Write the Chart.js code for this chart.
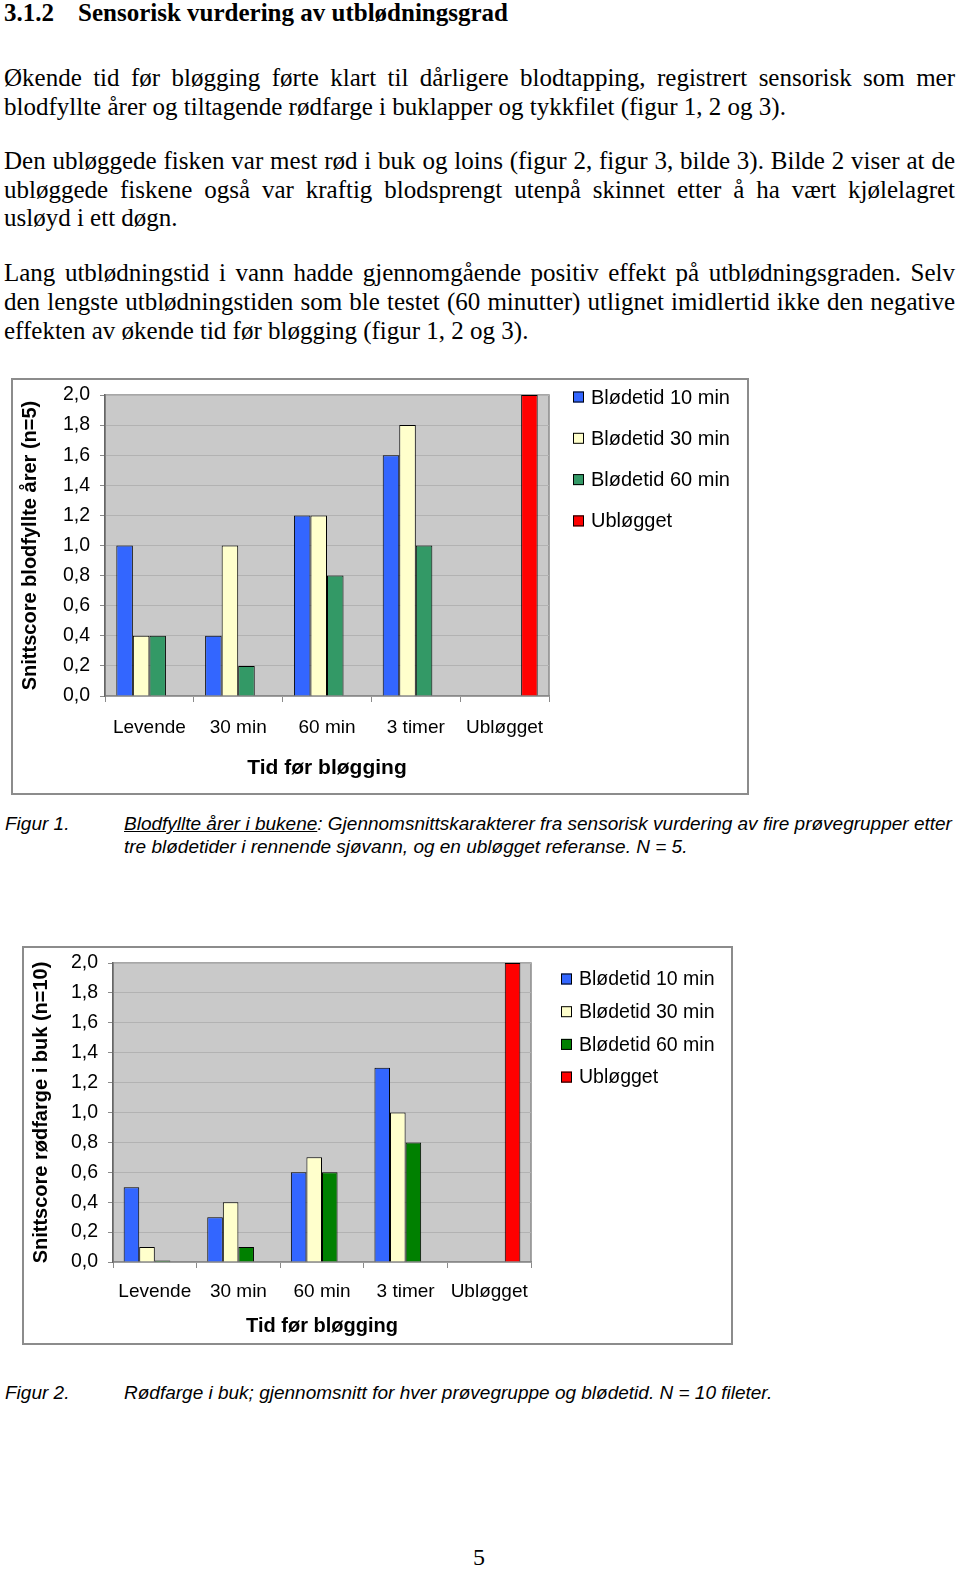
<!DOCTYPE html>
<html>
<head>
<meta charset="utf-8">
<script src="https://cdn.jsdelivr.net/npm/chart.js@4"></script>
<style>
  body { margin: 0; width: 960px; height: 1569px; background: #fff; position: relative; overflow: hidden; }
  .serif { font-family: "Liberation Serif", "Times New Roman", serif; color: #000; }
  .h { position: absolute; font-size: 25px; font-weight: bold; top: 0; line-height: 26px; }
  .line { position: absolute; left: 4px; width: 951px; font-size: 25px; white-space: nowrap; line-height: 26px; }
  .just { text-align: justify; text-align-last: justify; }
  .cap { position: absolute; font-family: "Liberation Sans", Arial, sans-serif; font-style: italic; font-size: 19px; white-space: nowrap; line-height: 22px; }
  .box { position: absolute; border: 2px solid #8c8c8c; box-sizing: border-box; }
  .box canvas { display: block; }
  .pg { position: absolute; left: 473px; top: 1544px; font-size: 24px; }
</style>
</head>
<body>
<div class="serif h" style="left:4px">3.1.2</div>
<div class="serif h" style="left:78px">Sensorisk vurdering av utblødningsgrad</div>

<div class="serif line just" style="top:65px">Økende tid før bløgging førte klart til dårligere blodtapping, registrert sensorisk som mer</div>
<div class="serif line" style="top:94px">blodfyllte årer og tiltagende rødfarge i buklapper og tykkfilet (figur 1, 2 og 3).</div>

<div class="serif line just" style="top:148px">Den ubløggede fisken var mest rød i buk og loins (figur 2, figur 3, bilde 3). Bilde 2 viser at de</div>
<div class="serif line just" style="top:177px">ubløggede fiskene også var kraftig blodsprengt utenpå skinnet etter å ha vært kjølelagret</div>
<div class="serif line" style="top:205px">usløyd i ett døgn.</div>

<div class="serif line just" style="top:260px">Lang utblødningstid i vann hadde gjennomgående positiv effekt på utblødningsgraden. Selv</div>
<div class="serif line just" style="top:289px">den lengste utblødningstiden som ble testet (60 minutter) utlignet imidlertid ikke den negative</div>
<div class="serif line" style="top:318px">effekten av økende tid før bløgging (figur 1, 2 og 3).</div>

<div class="box" style="left:11px; top:378px; width:738px; height:417px;">
  <canvas id="chart1" width="734" height="413"></canvas>
</div>

<div class="cap" style="left:5px; top:813px">Figur 1.</div>
<div class="cap" style="left:124px; top:813px"><u>Blodfyllte årer i bukene</u>: Gjennomsnittskarakterer fra sensorisk vurdering av fire prøvegrupper etter</div>
<div class="cap" style="left:124px; top:836px">tre blødetider i rennende sjøvann, og en ubløgget referanse. N = 5.</div>

<div class="box" style="left:22px; top:946px; width:711px; height:399px;">
  <canvas id="chart2" width="707" height="395"></canvas>
</div>

<div class="cap" style="left:5px; top:1382px">Figur 2.</div>
<div class="cap" style="left:124px; top:1382px">Rødfarge i buk; gjennomsnitt for hver prøvegruppe og blødetid. N = 10 fileter.</div>

<div class="serif pg">5</div>

<script>
const categories = ["Levende", "30 min", "60 min", "3 timer", "Ubløgget"];
const seriesNames = ["Blødetid 10 min", "Blødetid 30 min", "Blødetid 60 min", "Ubløgget"];
const yTickLabels = ["0,0", "0,2", "0,4", "0,6", "0,8", "1,0", "1,2", "1,4", "1,6", "1,8", "2,0"];

// Figur 1: blodfyllte årer
const aarer10 = [1.0, 0.4, 1.2, 1.6, null];
const aarer30 = [0.4, 1.0, 1.2, 1.8, null];
const aarer60 = [0.4, 0.2, 0.8, 1.0, null];
const aarerUblogget = [null, null, null, null, 2.0];

// Figur 2: rødfarge i buk
const buk10 = [0.5, 0.3, 0.6, 1.3, null];
const buk30 = [0.1, 0.4, 0.7, 1.0, null];
const buk60 = [0.01, 0.1, 0.6, 0.8, null];
const bukUblogget = [null, null, null, null, 2.0];

const sans = "'Liberation Sans', Arial, sans-serif";

// grey plot area + frame
const plotBg = {
  id: "plotBg",
  beforeDraw(chart) {
    const a = chart.chartArea, c = chart.ctx;
    c.save();
    c.fillStyle = "#c9c9c9";
    c.fillRect(a.left, a.top, a.right - a.left, a.bottom - a.top);
    c.strokeStyle = "#8a8a8a";
    c.lineWidth = 1.5;
    c.strokeRect(a.left, a.top, a.right - a.left, a.bottom - a.top);
    c.restore();
  }
};

// legend drawn at fixed spot, from the datasets
const sideLegend = {
  id: "sideLegend",
  afterDraw(chart, args, opts) {
    const c = chart.ctx;
    c.save();
    c.font = opts.size + "px " + sans;
    c.textBaseline = "middle";
    chart.data.datasets.forEach((ds, i) => {
      const y = opts.y + i * opts.gap;
      c.fillStyle = ds.backgroundColor;
      c.fillRect(opts.x, y - 5.5, 11, 11);
      c.strokeStyle = "#000";
      c.lineWidth = 1;
      c.strokeRect(opts.x + 0.5, y - 5, 10, 10);
      c.fillStyle = "#000";
      c.fillText(ds.label, opts.x + 18, y + 1);
    });
    c.restore();
  }
};

function makeChart(id, data, colors, g) {
  const datasets = data.map((d, i) => ({
    label: seriesNames[i],
    data: d,
    backgroundColor: colors[i],
    borderColor: "#000",
    borderWidth: 1,
    barPercentage: 1,
    categoryPercentage: 0.745
  }));
  return new Chart(document.getElementById(id), {
    type: "bar",
    data: { labels: categories, datasets: datasets },
    plugins: [plotBg, sideLegend],
    options: {
      responsive: false,
      animation: false,
      devicePixelRatio: 1,
      layout: { padding: { left: 0, right: g.padRight, top: g.top, bottom: 0 } },
      plugins: {
        legend: { display: false },
        tooltip: { enabled: false },
        sideLegend: { x: g.legX, y: g.legY, gap: g.legGap, size: g.legSize }
      },
      scales: {
        x: {
          afterFit: (s) => { s.height = g.xHeight; },
          grid: { offset: true, drawOnChartArea: false, tickLength: 6, tickColor: "#8a8a8a" },
          border: { color: "#8a8a8a", width: 1.5 },
          ticks: { color: "#000", font: { family: sans, size: 19 }, padding: g.xPad, maxRotation: 0 },
          title: { display: true, text: "Tid før bløgging", color: "#000", font: { family: sans, size: g.xTitleSize, weight: "bold" }, padding: { top: 0, bottom: g.xTitlePad } }
        },
        y: {
          min: 0, max: 2,
          afterFit: (s) => { s.width = g.yWidth; s.paddingTop = 0; s.paddingBottom = 0; },
          grid: { color: "#b2b2b2", tickLength: 5, tickColor: "#8a8a8a" },
          border: { color: "#666", width: 1.5 },
          ticks: {
            stepSize: 0.2, color: "#000", padding: g.yPad,
            font: { family: sans, size: 19.5 },
            callback: (v, i) => yTickLabels[i]
          },
          title: { display: true, text: g.yTitle, color: "#000", font: { family: sans, size: 20, weight: "bold" }, padding: { top: g.yTitlePad, bottom: 0 } }
        }
      }
    }
  });
}

makeChart("chart1",
  [aarer10, aarer30, aarer60, aarerUblogget],
  ["#3366ff", "#ffffcc", "#339966", "#ff0000"],
  { padRight: 198, top: 15, xHeight: 97, yWidth: 92, xPad: 14, xTitlePad: 12, xTitleSize: 21, yPad: 10, yTitlePad: 5,
    legX: 560, legY: 17, legGap: 41.3, legSize: 20, yTitle: "Snittscore blodfyllte årer (n=5)" });

makeChart("chart2",
  [buk10, buk30, buk60, bukUblogget],
  ["#3366ff", "#ffffcc", "#008000", "#ff0000"],
  { padRight: 200, top: 15, xHeight: 81, yWidth: 89, xPad: 12, xTitlePad: 5, xTitleSize: 20, yPad: 10, yTitlePad: 5,
    legX: 537, legY: 31, legGap: 32.7, legSize: 19.5, yTitle: "Snittscore rødfarge i buk (n=10)" });
</script>
</body>
</html>
